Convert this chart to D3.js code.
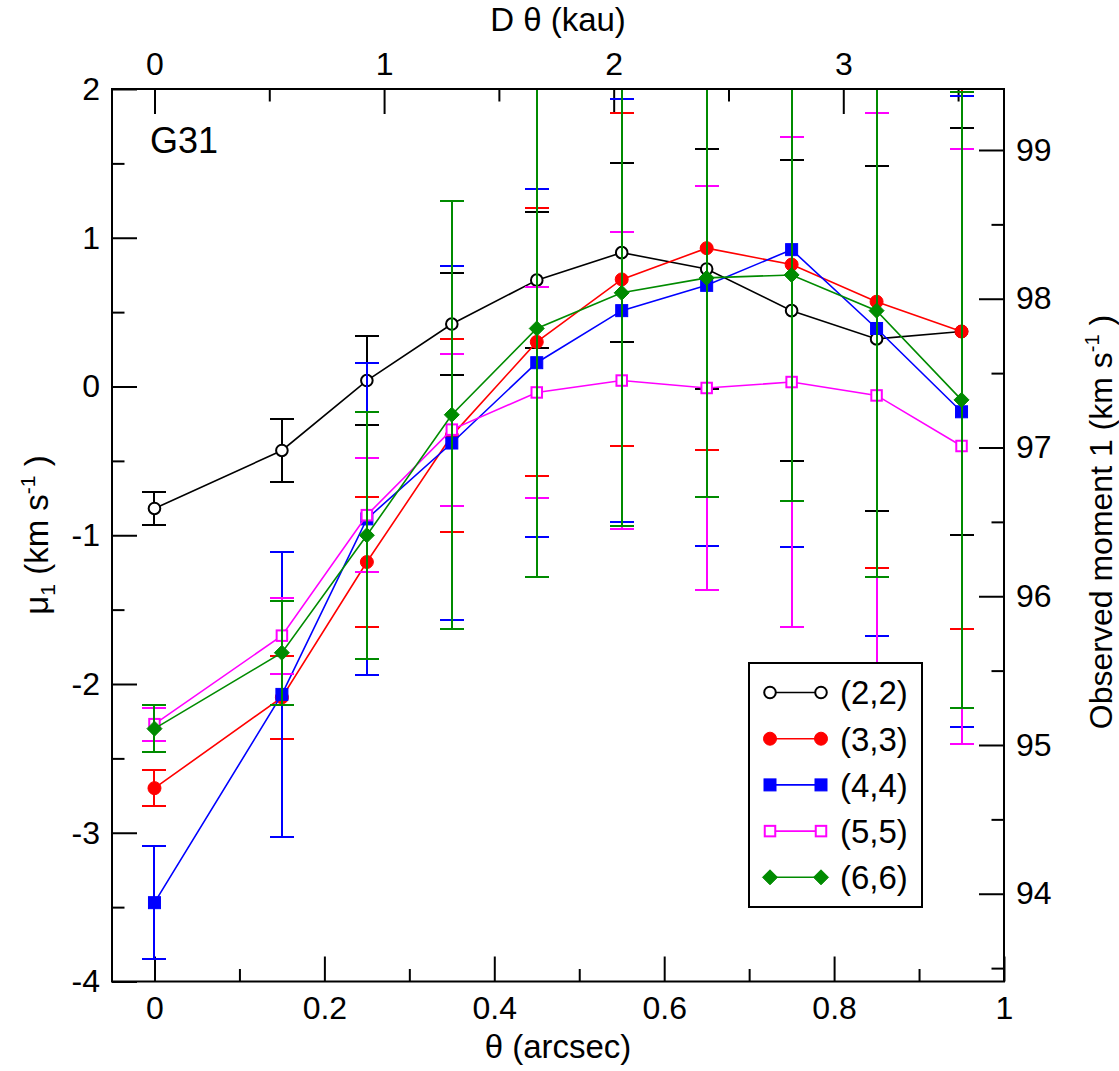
<!DOCTYPE html>
<html>
<head>
<meta charset="utf-8">
<script src="https://cdn.jsdelivr.net/npm/d3@7"></script>
<style>
  body { margin: 0; background: #fff; }
  text { font-family: "Liberation Sans", Arial, Helvetica, sans-serif; fill: #000; }
</style>
</head>
<body>
<div id="chart"></div>
<script>
// angular offset (arcsec)
const theta = [0, 0.15, 0.25, 0.35, 0.45, 0.55, 0.65, 0.75, 0.85, 0.95];

const labels = ["(2,2)", "(3,3)", "(4,4)", "(5,5)", "(6,6)"];
const colors = ["#000000", "#ff0000", "#0000ff", "#ff00ff", "#008b00"];
const symbols = ["openCircle", "circle", "square", "openSquare", "diamond"];

// mu_1 (km/s) and errors
const mu22 = [-0.82, -0.43, 0.04, 0.42, 0.715, 0.90, 0.79, 0.51, 0.32, 0.37];
const err22 = [0.11, 0.21, 0.30, 0.34, 0.455, 0.60, 0.81, 1.01, 1.16, 1.37];
const mu33 = [-2.70, -2.09, -1.18, -0.33, 0.30, 0.72, 0.93, 0.82, 0.57, 0.37];
const err33 = [0.12, 0.28, 0.44, 0.65, 0.90, 1.12, 1.36, 1.59, 1.79, 2.00];
const mu44 = [-3.47, -2.07, -0.89, -0.38, 0.16, 0.51, 0.68, 0.92, 0.39, -0.17];
const err44 = [0.38, 0.96, 1.05, 1.19, 1.17, 1.42, 1.75, 2.00, 2.07, 2.12];
const mu55 = [-2.27, -1.675, -0.865, -0.29, -0.04, 0.04, -0.01, 0.03, -0.06, -0.40];
const err55 = [0.11, 0.255, 0.385, 0.51, 0.71, 1.00, 1.36, 1.65, 1.90, 2.00];
const mu66 = [-2.30, -1.79, -1.00, -0.19, 0.39, 0.63, 0.73, 0.75, 0.51, -0.09];
const err66 = [0.16, 0.35, 0.83, 1.44, 1.67, 1.57, 1.47, 1.52, 1.79, 2.07];

const values = [mu22, mu33, mu44, mu55, mu66];
const errors = [err22, err33, err44, err55, err66];

const distKpc = 3.7;        // D, for the top axis
const vOffset = 97.41;      // right axis = mu_1 + offset

const width = 1119, height = 1071;
const pL = 112, pR = 1004, pT = 89, pB = 981.5;

const svg = d3.select("#chart").append("svg")
    .attr("width", width)
    .attr("height", height);

const x = d3.scaleLinear().domain([-0.05, 1]).range([pL, pR]);
const y = d3.scaleLinear().domain([-4, 2]).range([pB, pT]);
const xTop = d3.scaleLinear().domain([-0.05 * distKpc, 1 * distKpc]).range([pL, pR]);
const yRight = d3.scaleLinear().domain([-4 + vOffset, 2 + vOffset]).range([pB, pT]);

const fmt = d => String(d);   // plain hyphen minus, no trailing zeros

svg.append("clipPath").attr("id", "plotclip")
  .append("rect")
    .attr("x", pL).attr("y", pT)
    .attr("width", pR - pL).attr("height", pB - pT);

// axes (ticks pointing in)
function styleAxis(g) {
    g.select(".domain").remove();
    g.selectAll("line").attr("stroke", "#000").attr("stroke-width", 2);
    g.selectAll("text").attr("font-size", 32).attr("font-family", null).attr("fill", "#000");
}

svg.append("g").attr("transform", "translate(0," + pB + ")")
    .call(d3.axisBottom(x).tickValues([0, 0.2, 0.4, 0.6, 0.8, 1]).tickSize(-25).tickPadding(15).tickFormat(fmt))
    .call(styleAxis);
svg.append("g").attr("transform", "translate(0," + pB + ")")
    .call(d3.axisBottom(x).tickValues([0.1, 0.3, 0.5, 0.7, 0.9]).tickSize(-12.5).tickFormat(""))
    .call(styleAxis);

svg.append("g").attr("transform", "translate(0," + pT + ")")
    .call(d3.axisTop(xTop).tickValues([0, 1, 2, 3]).tickSize(-25).tickPadding(14).tickFormat(fmt))
    .call(styleAxis);
svg.append("g").attr("transform", "translate(0," + pT + ")")
    .call(d3.axisTop(xTop).tickValues([0.5, 1.5, 2.5, 3.5]).tickSize(-12.5).tickFormat(""))
    .call(styleAxis);

svg.append("g").attr("transform", "translate(" + pL + ",0)")
    .call(d3.axisLeft(y).tickValues([-4, -3, -2, -1, 0, 1, 2]).tickSize(-25).tickPadding(12).tickFormat(fmt))
    .call(styleAxis);
svg.append("g").attr("transform", "translate(" + pL + ",0)")
    .call(d3.axisLeft(y).tickValues([-3.5, -2.5, -1.5, -0.5, 0.5, 1.5]).tickSize(-12.5).tickFormat(""))
    .call(styleAxis);

svg.append("g").attr("transform", "translate(" + pR + ",0)")
    .call(d3.axisRight(yRight).tickValues([94, 95, 96, 97, 98, 99]).tickSize(-25).tickPadding(12).tickFormat(fmt))
    .call(styleAxis);
svg.append("g").attr("transform", "translate(" + pR + ",0)")
    .call(d3.axisRight(yRight).tickValues([93.5, 94.5, 95.5, 96.5, 97.5, 98.5]).tickSize(-12.5).tickFormat(""))
    .call(styleAxis);

// markers
function drawSymbol(g, kind, cx, cy, color) {
    if (kind === "openCircle" || kind === "circle") {
        g.append("circle").attr("cx", cx).attr("cy", cy)
            .attr("r", kind === "circle" ? 6.5 : 5.8)
            .attr("fill", kind === "circle" ? color : "#fff")
            .attr("stroke", color).attr("stroke-width", kind === "circle" ? 1 : 2);
    } else if (kind === "square" || kind === "openSquare") {
        const s = kind === "square" ? 12 : 10.5;
        g.append("rect").attr("x", cx - s / 2).attr("y", cy - s / 2)
            .attr("width", s).attr("height", s)
            .attr("fill", kind === "square" ? color : "#fff")
            .attr("stroke", color).attr("stroke-width", kind === "square" ? 1 : 2);
    } else {
        const r = 7.5;
        g.append("path")
            .attr("d", "M" + cx + "," + (cy - r) + "L" + (cx + r) + "," + cy +
                "L" + cx + "," + (cy + r) + "L" + (cx - r) + "," + cy + "Z")
            .attr("fill", color).attr("stroke", color).attr("stroke-width", 1);
    }
}

const line = d3.line().x(d => x(d[0])).y(d => y(d[1]));

values.forEach(function (vals, i) {
    const g = svg.append("g");
    const color = colors[i];
    const errs = errors[i];
    const clipped = g.append("g").attr("clip-path", "url(#plotclip)");

    // error bars
    const bars = clipped.append("g").attr("shape-rendering", "crispEdges");
    theta.forEach(function (t, j) {
        const yHi = y(vals[j] + errs[j]), yLo = y(vals[j] - errs[j]);
        const xc = Math.round(x(t));
        bars.append("line")
            .attr("x1", xc).attr("x2", xc).attr("y1", yHi).attr("y2", yLo)
            .attr("stroke", color).attr("stroke-width", 2);
        [yHi, yLo].forEach(function (yy) {
            bars.append("line")
                .attr("x1", xc - 12).attr("x2", xc + 12).attr("y1", yy).attr("y2", yy)
                .attr("stroke", color).attr("stroke-width", 2);
        });
    });

    clipped.append("path")
        .datum(theta.map((t, j) => [t, vals[j]]))
        .attr("fill", "none")
        .attr("stroke", color)
        .attr("stroke-width", 1.6)
        .attr("d", line);

    theta.forEach(function (t, j) {
        drawSymbol(g, symbols[i], x(t), y(vals[j]), color);
    });
});

// frame
svg.append("rect")
    .attr("x", pL).attr("y", pT)
    .attr("width", pR - pL).attr("height", pB - pT)
    .attr("fill", "none").attr("stroke", "#000").attr("stroke-width", 2);

// legend
const legend = svg.append("g");
legend.append("rect")
    .attr("x", 749).attr("y", 663).attr("width", 173).attr("height", 244)
    .attr("fill", "#fff").attr("stroke", "#000").attr("stroke-width", 2);
labels.forEach(function (lab, i) {
    const ly = 692.5 + i * 46.2;
    legend.append("line")
        .attr("x1", 770).attr("x2", 821).attr("y1", ly).attr("y2", ly)
        .attr("stroke", colors[i]).attr("stroke-width", 1.6);
    drawSymbol(legend, symbols[i], 770, ly, colors[i]);
    drawSymbol(legend, symbols[i], 821, ly, colors[i]);
    legend.append("text")
        .attr("x", 840).attr("y", ly).attr("dy", "0.36em")
        .attr("font-size", 33)
        .text(lab);
});

// annotation
svg.append("text").attr("x", 150).attr("y", 153).attr("font-size", 36).text("G31");

// axis titles
svg.append("text").attr("x", 558).attr("y", 1058).attr("text-anchor", "middle")
    .attr("font-size", 33).text("θ (arcsec)");
svg.append("text").attr("x", 558).attr("y", 31).attr("text-anchor", "middle")
    .attr("font-size", 33).text("D θ (kau)");

const yl = svg.append("text")
    .attr("transform", "translate(48,535) rotate(-90)")
    .attr("text-anchor", "middle")
    .attr("font-size", 33);
yl.append("tspan").text("μ");
yl.append("tspan").attr("font-size", 21).attr("dy", 7).text("1");
yl.append("tspan").attr("dy", -7).text(" (km s");
yl.append("tspan").attr("font-size", 21).attr("dy", -13).text("-1");
yl.append("tspan").attr("dy", 13).text(" )");

const yr = svg.append("text")
    .attr("transform", "translate(1112,522) rotate(-90)")
    .attr("text-anchor", "middle")
    .attr("font-size", 32);
yr.append("tspan").text("Observed moment 1 (km s");
yr.append("tspan").attr("font-size", 20).attr("dy", -13).text("-1");
yr.append("tspan").attr("dy", 13).text(" )");
</script>
</body>
</html>
